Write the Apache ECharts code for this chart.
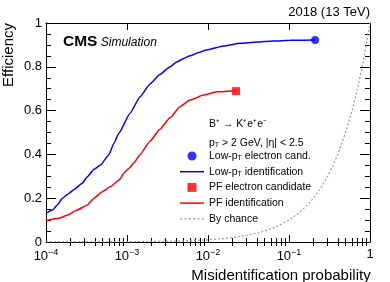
<!DOCTYPE html>
<html><head><meta charset="utf-8">
<script src="https://cdn.jsdelivr.net/npm/echarts@6/dist/echarts.min.js"></script>
<style>html,body{margin:0;padding:0;background:#fff}#c{width:390px;height:282px}</style>
</head><body><div id="c"></div>
<script>
// ---- data ----
const lowPtIdX = [1e-4, 1.2e-4, 1.38e-4, 1.59e-4, 1.92e-4, 2.22e-4, 2.81e-4, 3.24e-4, 3.92e-4, 4.73e-4, 6.0e-4, 6.9e-4, 7.9e-4, 1.09e-3, 1.45e-3, 1.92e-3, 2.55e-3, 3.4e-3, 4.1e-3, 5.0e-3, 6.0e-3, 7.5e-3, 9.6e-3, 1.55e-2, 2.49e-2, 3.98e-2, 6.4e-2, 0.103, 0.21];
const lowPtIdY = [0.131, 0.146, 0.169, 0.2, 0.222, 0.24, 0.268, 0.298, 0.332, 0.352, 0.4, 0.451, 0.496, 0.588, 0.663, 0.722, 0.765, 0.8, 0.822, 0.838, 0.85, 0.864, 0.877, 0.895, 0.907, 0.913, 0.918, 0.921, 0.922];
const pfIdX = [1e-4, 1.45e-4, 1.83e-4, 2.43e-4, 3.24e-4, 3.92e-4, 4.96e-4, 6.3e-4, 7.97e-4, 9.18e-4, 1.06e-3, 1.22e-3, 1.45e-3, 1.92e-3, 2.55e-3, 3.4e-3, 4.5e-3, 6.0e-3, 8.75e-3, 1.28e-2, 1.96e-2, 2.22e-2];
const pfIdY = [0.097, 0.108, 0.123, 0.146, 0.169, 0.2, 0.23, 0.253, 0.283, 0.315, 0.337, 0.362, 0.4, 0.46, 0.515, 0.567, 0.618, 0.648, 0.671, 0.686, 0.689, 0.689];
const chanceX = [1e-4, 1e-3, 5e-3, 0.01, 0.015, 0.02, 0.03, 0.04, 0.05, 0.07, 0.1, 0.13, 0.17, 0.2, 0.25, 0.3, 0.35, 0.4, 0.5, 0.6, 0.7, 0.8, 0.9, 1];
const chanceY = [1e-4, 1e-3, 5e-3, 0.01, 0.015, 0.02, 0.03, 0.04, 0.05, 0.07, 0.1, 0.13, 0.17, 0.2, 0.25, 0.3, 0.35, 0.4, 0.5, 0.6, 0.7, 0.8, 0.9, 1];
const lowPtCand = [[0.21, 0.922]];
const pfCand = [[0.0222, 0.689]];
const xTickExponents = [-4, -3, -2, -1, 0];
const yTickLabels = ['0', '0.2', '0.4', '0.6', '0.8', '1'];
const seriesNames = ['Low-pT electron cand.', 'Low-pT identification', 'PF electron candidate', 'PF identification', 'By chance'];

const FONT = "'Liberation Sans', Arial, Helvetica, sans-serif";
const BLUE = '#0000ff', RED = '#ff0000', GRAY = '#9a9a9a';
const zip = (xs, ys) => xs.map((x, i) => [x, ys[i]]);

// minor tick positions for log axis (2..9 per decade)
const minorX = [];
for (let d = -4; d < 0; d++) for (let m = 2; m <= 9; m++) minorX.push(m * Math.pow(10, d));

// turn "pT" into p with subscript T in rich text
const richName = s => s.split('pT').map(p => p ? '{n|' + p + '}' : '').join('{n|p}{s|T}');

const LINE_ICON = 'path://M0,0H24V1.5H0Z';
const DOT_ICON = 'path://M0,0H2V1.2H0Z M4,0H6V1.2H4Z M8,0H10V1.2H8Z M12,0H14V1.2H12Z M16,0H18V1.2H16Z M20,0H22V1.2H20Z';
const SQUARE_ICON = 'path://M0,0H8V8H0Z';

const baseX = {
  type: 'log', logBase: 10, min: 1e-4, max: 1, interval: 1,
  splitLine: { show: false }, axisPointer: { show: false }
};
const chart = echarts.init(document.getElementById('c'), null, { renderer: 'canvas' });
chart.setOption({
  animation: false,
  backgroundColor: '#fff',
  textStyle: { fontFamily: FONT },
  grid: { left: 46, right: 20, top: 23, bottom: 40, containLabel: false, outerBoundsMode: 'none' },
  xAxis: [
    Object.assign({}, baseX, {
      position: 'bottom',
      name: 'Misidentification probability', nameLocation: 'middle', nameGap: 10,
      nameTextStyle: { fontFamily: FONT, fontSize: 15, color: '#000', padding: [0, 0, 0, 146] },
      axisLine: { show: true, onZero: false, lineStyle: { color: '#000', width: 1 } },
      axisTick: { show: true, inside: true, length: 7, lineStyle: { color: '#000' } },
      axisLabel: {
        show: true, margin: 6, color: '#000',
        formatter: v => {
          const e = Math.round(Math.log10(v));
          if (xTickExponents.indexOf(e) < 0) return '';
          return e === 0 ? '{b|1}' : '{b|10}{e|' + (e < 0 ? '\u2212' : '') + Math.abs(e) + '}';
        },
        rich: {
          b: { fontFamily: FONT, fontSize: 13, color: '#000' },
          e: { fontFamily: FONT, fontSize: 9, color: '#000', padding: [0, 0, 8, 0] }
        }
      }
    }),
    Object.assign({}, baseX, {
      position: 'bottom', axisLine: { show: false }, axisLabel: { show: false },
      axisTick: { show: true, inside: true, length: 4, customValues: minorX, lineStyle: { color: '#000' } }
    }),
    Object.assign({}, baseX, {
      position: 'top', axisLabel: { show: false },
      axisLine: { show: true, onZero: false, lineStyle: { color: '#000', width: 1 } },
      axisTick: { show: true, inside: true, length: 7, lineStyle: { color: '#000' } }
    }),
    Object.assign({}, baseX, {
      position: 'top', axisLine: { show: false }, axisLabel: { show: false },
      axisTick: { show: true, inside: true, length: 4, customValues: minorX, lineStyle: { color: '#000' } }
    })
  ],
  yAxis: [
    {
      type: 'value', min: 0, max: 1, interval: 0.2, position: 'left',
      name: 'Efficiency', nameLocation: 'end', nameGap: 0, nameRotate: 90,
      nameTextStyle: { fontFamily: FONT, fontSize: 15, color: '#000', align: 'right', verticalAlign: 'bottom', padding: [0, 0, 30, 0] },
      splitLine: { show: false },
      axisLine: { show: true, onZero: false, lineStyle: { color: '#000', width: 1 } },
      axisTick: { show: true, inside: true, length: 10, lineStyle: { color: '#000' } },
      minorTick: { show: true, splitNumber: 4, length: 5, lineStyle: { color: '#000' } },
      axisLabel: {
        margin: 4, color: '#000', fontFamily: FONT, fontSize: 13,
        formatter: v => yTickLabels[Math.round(v / 0.2)]
      }
    },
    {
      type: 'value', min: 0, max: 1, interval: 0.2, position: 'right',
      splitLine: { show: false }, axisLabel: { show: false },
      axisLine: { show: true, onZero: false, lineStyle: { color: '#000', width: 1 } },
      axisTick: { show: true, inside: true, length: 10, lineStyle: { color: '#000' } },
      minorTick: { show: true, splitNumber: 4, length: 5, lineStyle: { color: '#000' } }
    }
  ],
  legend: {
    orient: 'vertical', left: 180, top: 150, padding: 0,
    itemWidth: 24, itemHeight: 9, itemGap: 3.7, symbolKeepAspect: true,
    data: [
      { name: seriesNames[0], icon: 'circle' },
      { name: seriesNames[1], icon: LINE_ICON },
      { name: seriesNames[2], icon: SQUARE_ICON },
      { name: seriesNames[3], icon: LINE_ICON },
      { name: seriesNames[4], icon: DOT_ICON }
    ],
    formatter: name => richName(name),
    textStyle: {
      fontFamily: FONT, fontSize: 10.5, color: '#000', lineHeight: 12,
      rich: {
        n: { fontFamily: FONT, fontSize: 10.5, color: '#000', lineHeight: 12 },
        s: { fontFamily: FONT, fontSize: 7, color: '#000', lineHeight: 7, padding: [5, 0, 0, 0] }
      }
    }
  },
  graphic: [
    { type: 'text', left: 63, top: 34, z: 10,
      style: { text: '{c|CMS} {s|Simulation}', rich: {
        c: { fontFamily: FONT, fontSize: 15.5, fontWeight: 'bold', fill: '#000' },
        s: { fontFamily: FONT, fontSize: 12, fontStyle: 'italic', fill: '#000', padding: [2, 0, 0, 0] } } } },
    { type: 'text', right: 20, top: 6, z: 10,
      style: { text: '2018 (13 TeV)', fontFamily: FONT, fontSize: 13, fill: '#000' } },
    { type: 'text', left: 209, top: 119, z: 10,
      style: { text: 'B\u207A \u2192 K\u207Ae\u207Ae\u207B', fontFamily: FONT, fontSize: 10.5, fill: '#000' } },
    { type: 'text', left: 209, top: 137, z: 10,
      style: { text: '{n|p}{s|T}{n| > 2 GeV, |\u03B7| < 2.5}', rich: {
        n: { fontFamily: FONT, fontSize: 10.5, fill: '#000', lineHeight: 12 },
        s: { fontFamily: FONT, fontSize: 7, fill: '#000', lineHeight: 7, padding: [5, 0, 0, 0] } } } }
  ],
  series: [
    { name: seriesNames[0], type: 'scatter', xAxisIndex: 0, yAxisIndex: 0, data: lowPtCand,
      symbol: 'circle', symbolSize: 8, itemStyle: { color: BLUE }, z: 5 },
    { name: seriesNames[1], type: 'line', xAxisIndex: 0, yAxisIndex: 0, data: zip(lowPtIdX, lowPtIdY),
      symbol: 'none', smooth: 0.15, smoothMonotone: 'x', lineStyle: { color: BLUE, width: 1.5 }, itemStyle: { color: BLUE } },
    { name: seriesNames[2], type: 'scatter', xAxisIndex: 0, yAxisIndex: 0, data: pfCand,
      symbol: 'rect', symbolSize: 8, itemStyle: { color: RED }, z: 5 },
    { name: seriesNames[3], type: 'line', xAxisIndex: 0, yAxisIndex: 0, data: zip(pfIdX, pfIdY),
      symbol: 'none', smooth: 0.15, smoothMonotone: 'x', lineStyle: { color: RED, width: 1.5 }, itemStyle: { color: RED } },
    { name: seriesNames[4], type: 'line', xAxisIndex: 0, yAxisIndex: 0, data: zip(chanceX, chanceY),
      symbol: 'none', lineStyle: { color: GRAY, width: 1.2, type: [2, 2] }, itemStyle: { color: GRAY } }
  ]
});
</script>
</body></html>
